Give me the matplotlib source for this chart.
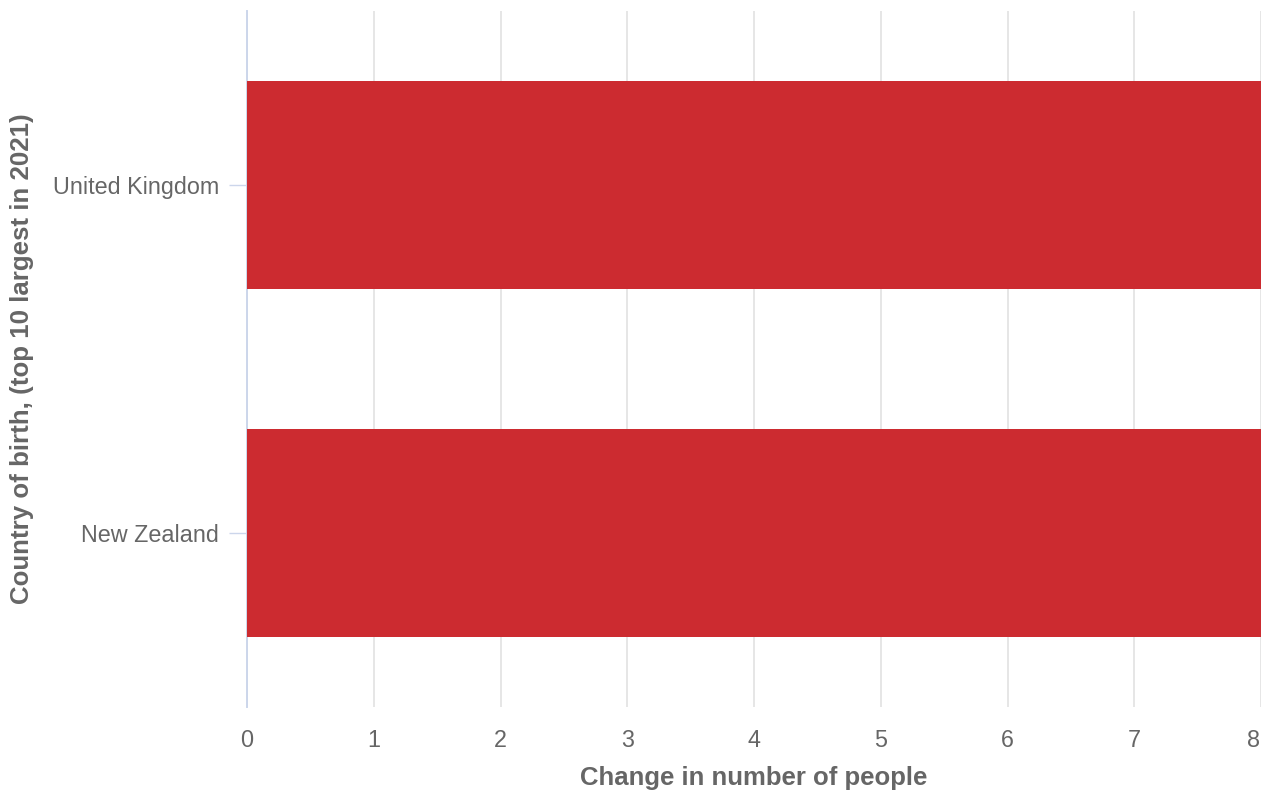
import matplotlib
matplotlib.use("Agg")
import matplotlib.pyplot as plt
import matplotlib.transforms as mtransforms

categories = ["United Kingdom", "New Zealand"]
values = [8, 8]
x_ticks = [0, 1, 2, 3, 4, 5, 6, 7, 8]

plt.rcParams['font.family'] = ['Liberation Sans', 'DejaVu Sans']

fig = plt.figure(figsize=(12.63, 7.94), dpi=100)
ax = fig.add_axes([247/1263, 1-707/794, (1261-247)/1263, (707-11)/794])

ypos = list(range(len(categories)))
ax.barh(ypos, values, height=0.6, color='#cc2b30', zorder=3)
ax.set_ylim(len(categories)-0.5, -0.5)
ax.set_xlim(0, 8)
ax.set_xticks(x_ticks)
ax.set_xticklabels([str(t) for t in x_ticks])
ax.set_yticks(ypos)
ax.set_yticklabels(categories)

ax.grid(axis='x', color='#e6e6e6', linewidth=1.4, zorder=0)
ax.grid(axis='y', visible=False)
for s in ['top', 'right', 'bottom']:
    ax.spines[s].set_visible(False)
ax.spines['left'].set_color('#ccd6eb')
ax.spines['left'].set_linewidth(1.4)

ax.tick_params(axis='x', length=0, pad=16, labelsize=16.8, labelcolor='#666666')
ax.tick_params(axis='y', length=13, width=1, color='#ccd6eb', pad=7, labelsize=16.8, labelcolor='#666666')

# keep last x label inside the figure
last = ax.get_xticklabels()[-1]
last.set_transform(last.get_transform() + mtransforms.ScaledTranslation(-7/100, 0, fig.dpi_scale_trans))

ax.set_xlabel("Change in number of people", fontsize=18.5, fontweight='bold', color='#666666')
ax.xaxis.set_label_coords(0.5, -(778-707)/696, transform=ax.transAxes)
ax.xaxis.label.set_va('center')
ax.set_ylabel("Country of birth, (top 10 largest in 2021)", fontsize=18.6, fontweight='bold', color='#666666')
ax.yaxis.set_label_coords(-(247-22)/1014, 0.5)
ax.yaxis.label.set_va('center')

fig.savefig("out.png", dpi=100)
